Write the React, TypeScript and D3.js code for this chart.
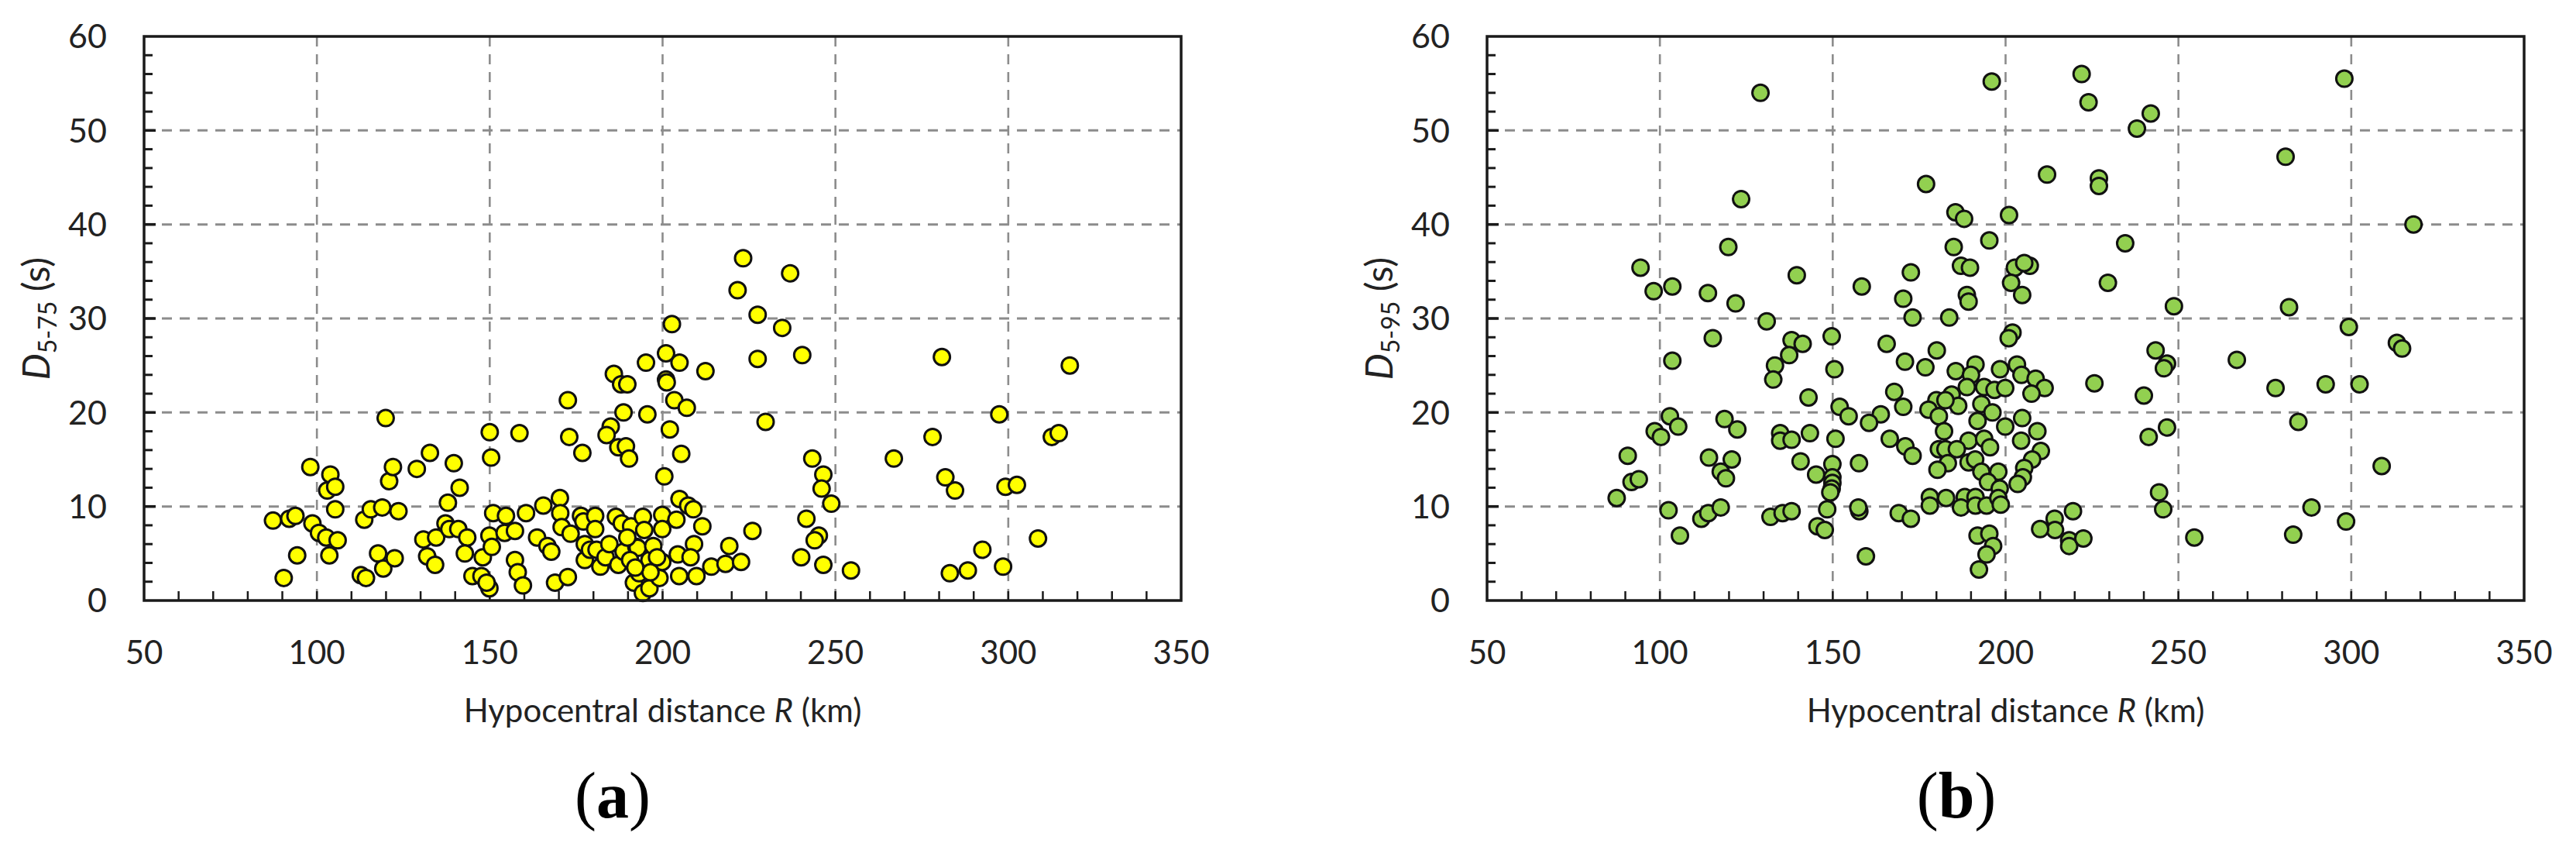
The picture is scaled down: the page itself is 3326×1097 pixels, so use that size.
import * as d3 from 'd3';

// hypocentral distance R (km) vs significant duration (s)
const xTicks = [50, 100, 150, 200, 250, 300, 350];
const yTicks = [0, 10, 20, 30, 40, 50, 60];

const d575: [number, number][] = [
  [87.3, 8.5], [92.0, 8.7], [93.8, 9.0], [90.4, 2.4], [94.3, 4.8], [98.1, 14.2], [98.7, 8.2], [100.6, 7.2],
  [102.7, 6.7], [106.0, 6.4], [103.6, 4.8], [103.9, 13.4], [103.0, 11.7], [105.3, 12.1], [105.3, 9.7],
  [112.7, 2.7], [114.2, 2.4], [113.7, 8.6], [115.6, 9.7], [117.7, 5.0], [119.9, 19.4], [119.2, 3.4],
  [120.9, 12.7], [122.0, 14.2], [118.9, 9.9], [123.6, 9.5], [122.5, 4.5],
  [128.9, 14.0], [132.7, 15.7], [139.6, 14.6], [141.3, 12.0], [137.9, 10.4], [150.0, 17.9], [158.6, 17.8], [150.4, 15.2],
  [130.8, 6.5], [134.5, 6.7], [131.9, 4.7], [134.2, 3.8], [137.2, 8.2], [138.3, 7.6], [140.9, 7.6], [143.5, 6.7],
  [142.8, 5.0], [145.0, 2.6], [147.6, 2.6], [148.0, 4.6], [149.9, 6.9], [151.0, 9.3], [154.7, 9.0], [154.3, 7.2],
  [157.3, 7.4], [150.6, 5.7], [149.9, 1.3], [149.1, 1.9], [157.3, 4.3], [158.1, 3.0], [159.6, 1.6], [160.5, 9.3],
  [165.5, 10.1], [170.3, 10.9], [170.4, 9.3], [170.8, 7.8], [173.4, 7.1], [163.7, 6.7], [166.7, 5.8], [167.8, 5.2],
  [168.9, 1.9], [172.6, 2.5], [173.0, 17.4], [176.8, 15.7], [172.6, 21.3],
  [176.4, 9.0], [177.1, 8.4], [180.5, 9.0], [180.5, 7.6], [177.5, 6.0], [177.5, 4.3], [179.0, 5.4], [180.9, 5.4],
  [182.0, 3.6], [183.5, 4.6], [184.6, 6.0], [186.5, 8.9], [188.2, 8.2], [187.2, 3.8], [188.7, 5.2], [190.9, 7.9],
  [192.4, 5.7], [194.3, 8.9], [194.7, 7.5], [192.8, 5.6], [190.6, 4.3], [191.7, 1.9], [193.2, 2.9], [194.3, 0.8],
  [196.2, 1.3], [196.2, 4.3], [197.3, 5.8], [198.0, 3.2], [199.1, 2.4], [199.9, 4.1], [199.9, 9.1], [199.9, 7.6],
  [204.0, 8.6], [189.8, 6.7], [196.5, 3.0], [198.4, 4.6], [192.1, 3.5],
  [185.0, 18.5], [183.8, 17.6], [187.2, 16.3], [189.4, 16.4], [190.3, 15.1], [188.7, 20.0], [195.6, 19.8],
  [202.1, 18.2], [205.4, 15.6], [200.5, 13.2], [229.8, 19.0],
  [204.9, 10.8], [207.4, 10.1], [208.9, 9.7], [211.5, 7.9], [226.0, 7.4], [219.3, 5.8], [209.1, 6.0], [204.4, 4.9],
  [208.1, 4.6], [214.1, 3.6], [218.2, 3.9], [222.7, 4.1], [204.8, 2.6], [209.8, 2.6],
  [223.3, 36.4], [236.9, 34.8], [221.7, 33.0], [227.5, 30.4], [234.6, 29.0], [240.4, 26.1], [227.5, 25.7],
  [202.7, 29.4], [201.0, 26.3], [204.9, 25.3], [195.2, 25.3], [212.4, 24.4], [185.9, 24.1], [188.0, 23.0],
  [189.8, 23.0], [201.0, 23.5], [201.2, 23.2], [203.4, 21.3], [207.0, 20.5],
  [280.8, 25.9], [317.8, 25.0], [297.4, 19.8], [278.1, 17.4], [312.6, 17.4], [314.6, 17.8], [266.9, 15.1],
  [243.3, 15.1], [246.5, 13.4], [246.0, 11.9], [248.8, 10.3], [281.8, 13.1], [284.6, 11.7], [299.2, 12.1],
  [302.5, 12.3], [241.6, 8.7], [245.2, 6.9], [244.0, 6.4], [240.1, 4.6], [246.5, 3.8], [254.5, 3.2],
  [283.1, 2.9], [288.3, 3.2], [292.5, 5.4], [298.5, 3.6], [308.6, 6.6],
];

const d595: [number, number][] = [
  [119.8, 37.6], [94.4, 35.4], [98.2, 32.9], [103.6, 33.4], [113.9, 32.7], [121.9, 31.6], [139.6, 34.6],
  [130.9, 29.7], [115.3, 27.9], [103.6, 25.5], [138.1, 27.7], [141.3, 27.3], [137.4, 26.1], [133.3, 25.0],
  [132.8, 23.5], [149.7, 28.1], [150.5, 24.6], [143.0, 21.6], [152.0, 20.6], [154.6, 19.6], [102.9, 19.6],
  [105.3, 18.5], [98.5, 18.0], [100.3, 17.4], [118.7, 19.3], [122.4, 18.2], [134.8, 17.8], [134.8, 17.0],
  [138.1, 17.1], [143.4, 17.8], [150.8, 17.2], [90.7, 15.4], [114.2, 15.2], [120.8, 15.0], [117.6, 13.7],
  [119.1, 13.0], [91.8, 12.6], [93.9, 12.9], [87.5, 10.9], [140.7, 14.8], [145.2, 13.4], [149.9, 14.5],
  [149.9, 13.1], [149.9, 12.5], [149.7, 11.9], [149.3, 11.5], [148.4, 9.7], [145.6, 7.9], [147.7, 7.5],
  [102.5, 9.6], [105.8, 6.9], [112.0, 8.7], [114.0, 9.3], [117.6, 9.9], [132.0, 8.9], [135.5, 9.3], [138.1, 9.5],
  [185.0, 37.6], [195.3, 38.3], [234.6, 38.0], [187.1, 35.6], [189.7, 35.4], [202.7, 35.4], [207.0, 35.6],
  [205.4, 35.9], [201.6, 33.8], [204.8, 32.5], [172.6, 34.9], [158.4, 33.4], [170.4, 32.1], [188.8, 32.5],
  [189.3, 31.8], [229.6, 33.8], [173.1, 30.1], [183.7, 30.1], [202.0, 28.5], [200.9, 27.9], [165.6, 27.3],
  [180.1, 26.6], [170.9, 25.4], [176.8, 24.8], [185.6, 24.4], [191.3, 25.1], [190.0, 24.0], [198.4, 24.6],
  [203.3, 25.1], [204.6, 24.0], [208.7, 23.6], [211.3, 22.6], [207.5, 22.0], [225.7, 23.1], [240.0, 21.8],
  [167.8, 22.2], [170.4, 20.6], [163.9, 19.8], [160.5, 18.9], [188.8, 22.7], [193.8, 22.7], [196.8, 22.4],
  [199.9, 22.6], [184.4, 21.9], [180.0, 21.3], [177.7, 20.3], [186.3, 20.7], [182.6, 21.3], [193.0, 20.9],
  [191.9, 19.1], [180.7, 19.6], [196.2, 20.0], [199.9, 18.5], [204.8, 19.4], [209.2, 18.0], [204.5, 17.0],
  [182.2, 18.0], [189.3, 17.0], [193.8, 17.2], [195.5, 16.3], [166.5, 17.2], [171.0, 16.4], [173.1, 15.4],
  [157.6, 14.6], [180.7, 16.1], [182.6, 16.1], [185.9, 16.1], [183.3, 14.6], [180.3, 13.9], [189.3, 14.7],
  [191.2, 15.0], [193.0, 13.7], [197.9, 13.7], [194.9, 12.6], [198.3, 11.9], [210.2, 15.9], [207.7, 15.0],
  [205.4, 14.1], [205.0, 13.1], [203.5, 12.4], [178.1, 11.0], [178.1, 10.1], [182.8, 10.9], [188.2, 11.0],
  [191.3, 11.0], [187.1, 9.9], [191.3, 10.1], [194.5, 10.1], [197.9, 10.9], [198.6, 10.2], [157.7, 9.5],
  [157.4, 9.9], [169.1, 9.3], [172.6, 8.7], [219.5, 9.5], [214.2, 8.7], [214.3, 7.5], [210.0, 7.6],
  [218.4, 6.4], [218.4, 5.8], [222.5, 6.6], [191.9, 6.9], [195.3, 7.1], [196.4, 5.8], [194.5, 4.9],
  [192.3, 3.3], [159.6, 4.7],
  [248.7, 31.3], [282.0, 31.2], [299.3, 29.1], [313.2, 27.4], [314.7, 26.8], [243.4, 26.6], [246.7, 25.2],
  [245.8, 24.7], [266.9, 25.6], [278.1, 22.6], [292.6, 23.0], [302.4, 23.0], [284.7, 19.0], [246.7, 18.4],
  [241.4, 17.4], [308.8, 14.3], [244.4, 11.5], [245.6, 9.7], [288.5, 9.9], [298.5, 8.4], [283.2, 7.0], [254.6, 6.7],
  [123.5, 42.7], [129.1, 54.0], [177.0, 44.3], [185.5, 41.3], [188.0, 40.6], [196.0, 55.2], [201.0, 41.0],
  [212.0, 45.3], [222.0, 56.0], [224.0, 53.0], [227.0, 44.9], [227.0, 44.1], [238.0, 50.2], [242.0, 51.8],
  [281.0, 47.2], [298.0, 55.5], [318.0, 40.0],
];

const FONT = 'Lato, "Open Sans", sans-serif';
const GRID = '#8c8c8c';
const INK = '#1a1a1a';

interface PanelProps {
  left: number;
  data: [number, number][];
  fill: string;
  sub: string;
  letter: string;
  letterX: number;
}

function Panel({ left, data, fill, sub, letter, letterX }: PanelProps) {
  const top = 47;
  const bottom = 775;
  const plotW = 1339;

  const x = d3.scaleLinear().domain([50, 350]).range([left, left + plotW]);
  const y = d3.scaleLinear().domain([0, 60]).range([bottom, top]);

  const xMinor = d3.range(60, 350, 10);
  const yMinor = d3.range(2, 60, 2);

  return (
    <g>
      {/* gridlines */}
      {yTicks.slice(1, -1).map(t => (
        <line key={'gy' + t} x1={x(50)} x2={x(350)} y1={y(t)} y2={y(t)}
          stroke={GRID} strokeWidth={3} strokeDasharray="13 10" />
      ))}
      {xTicks.slice(1, -1).map(t => (
        <line key={'gx' + t} x1={x(t)} x2={x(t)} y1={y(60)} y2={y(0)}
          stroke={GRID} strokeWidth={2.6} strokeDasharray="13 10" />
      ))}

      {/* inward ticks */}
      {xMinor.map(t => (
        <line key={'tx' + t} x1={x(t)} x2={x(t)} y1={bottom} y2={bottom - 12}
          stroke={INK} strokeWidth={2.5} />
      ))}
      {yMinor.map(t => (
        <line key={'ty' + t} x1={left} x2={left + (t % 10 === 0 ? 15 : 11)} y1={y(t)} y2={y(t)}
          stroke={INK} strokeWidth={t % 10 === 0 ? 3.5 : 3} />
      ))}

      {/* points */}
      {data.map((d, i) => (
        <circle key={i} cx={x(d[0])} cy={y(d[1])} r={10.5}
          fill={fill} stroke="#111" strokeWidth={3} />
      ))}

      {/* frame */}
      <rect x={left} y={top} width={plotW} height={bottom - top}
        fill="none" stroke={INK} strokeWidth={3.5} />

      {/* tick labels */}
      {xTicks.map(t => (
        <text key={'lx' + t} x={x(t)} y={857} textAnchor="middle"
          fontFamily={FONT} fontSize={42} fill="#222">{t}</text>
      ))}
      {yTicks.map(t => (
        <text key={'ly' + t} x={left - 48} y={y(t)} dy="0.36em" textAnchor="end"
          fontFamily={FONT} fontSize={43} fill="#222">{t}</text>
      ))}

      {/* axis titles */}
      <text x={left + plotW / 2} y={932} textAnchor="middle" fontFamily={FONT} fontSize={42} fill="#222">
        Hypocentral distance <tspan fontStyle="italic">R</tspan> (km)
      </text>
      <text transform={`translate(${left - 122},${(top + bottom) / 2}) rotate(-90)`}
        textAnchor="middle" fontFamily={FONT} fontSize={48} fill="#222">
        <tspan fontStyle="italic">D</tspan>
        <tspan fontSize={32} dy={9}>{sub}</tspan>
        <tspan dy={-9}> (s)</tspan>
      </text>

      {/* panel letter */}
      <text x={letterX} y={1055} textAnchor="middle" fontFamily='"Liberation Serif", serif' fontSize={84} fill="#000">
        (<tspan fontWeight="bold">{letter}</tspan>)
      </text>
    </g>
  );
}

export default function App() {
  return (
    <div>
      <style>{`body{margin:0;background:#fff}`}</style>
      <svg width={3326} height={1097} viewBox="0 0 3326 1097" style={{ display: 'block', background: '#fff' }}>
        <Panel left={186} data={d575} fill="#FFFF00" sub="5-75" letter="a" letterX={791} />
        <Panel left={1920} data={d595} fill="#92D050" sub="5-95" letter="b" letterX={2526} />
      </svg>
    </div>
  );
}
